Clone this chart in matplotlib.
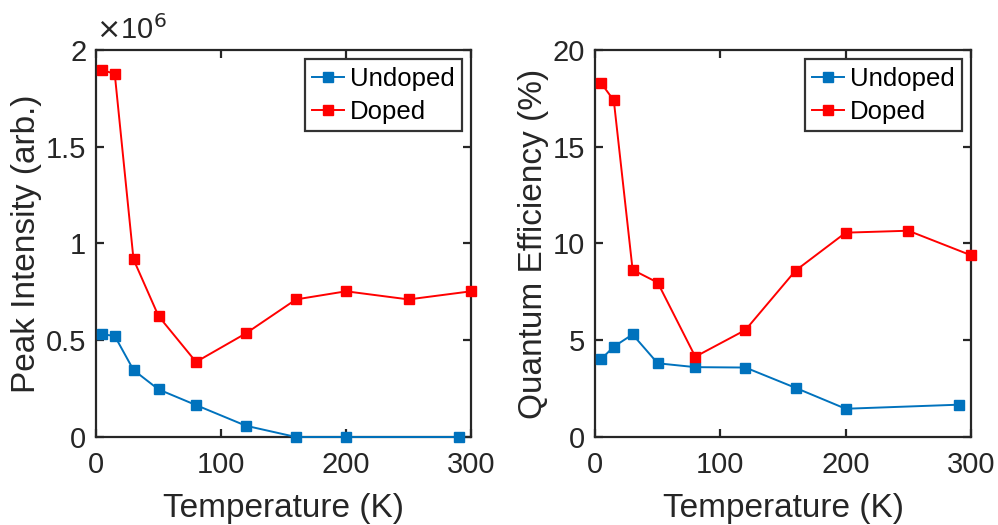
import matplotlib.pyplot as plt
from matplotlib.ticker import FuncFormatter

# Data
temp_undoped = [5, 15, 30, 50, 80, 120, 160, 200, 290]
temp_doped = [5, 15, 30, 50, 80, 120, 160, 200, 250, 300]

peak_undoped = [0.531e6, 0.522e6, 0.346e6, 0.246e6, 0.165e6, 0.058e6, 0.0, 0.0, 0.0]
peak_doped = [1.897e6, 1.876e6, 0.918e6, 0.625e6, 0.388e6, 0.536e6, 0.711e6, 0.753e6, 0.711e6, 0.753e6]

qe_undoped = [4.03, 4.67, 5.30, 3.81, 3.61, 3.59, 2.54, 1.46, 1.67]
qe_doped = [18.28, 17.39, 8.64, 7.98, 4.15, 5.53, 8.60, 10.56, 10.66, 9.39]

x_ticks = [0, 100, 200, 300]
peak_ticks = [0, 0.5e6, 1e6, 1.5e6, 2e6]
qe_ticks = [0, 5, 10, 15, 20]

blue = '#0072BD'
red = '#FF0000'
dark = '#262626'

plt.rcParams['font.family'] = ['Liberation Sans', 'DejaVu Sans']

fig = plt.figure(figsize=(9.98, 5.25), dpi=100)
ax1 = fig.add_axes([0.0962, 0.1676, 0.3758, 0.7372])
ax2 = fig.add_axes([0.5962, 0.1676, 0.3768, 0.7372])


def style(ax):
    for s in ax.spines.values():
        s.set_linewidth(1.6)
        s.set_color(dark)
    ax.tick_params(direction='in', length=6, width=1.6, color=dark,
                   labelsize=21, labelcolor=dark, top=True, right=True)
    ax.tick_params(axis='x', pad=10)
    ax.tick_params(axis='y', pad=7)
    ax.set_xlim(0, 300)
    ax.set_xticks(x_ticks)
    ax.set_xlabel('Temperature (K)', fontsize=24, color=dark, labelpad=10)


# Left panel: peak intensity
ax1.plot(temp_undoped, peak_undoped, '-s', color=blue, lw=1.4, ms=6.5, label='Undoped', clip_on=False, zorder=3)
ax1.plot(temp_doped, peak_doped, '-s', color=red, lw=1.4, ms=6.5, label='Doped', clip_on=False, zorder=3)
style(ax1)
ax1.set_ylim(0, 2e6)
ax1.set_yticks(peak_ticks)
ax1.yaxis.set_major_formatter(FuncFormatter(lambda v, p: '%g' % (v / 1e6)))
ax1.set_ylabel('Peak Intensity (arb.)', fontsize=24, color=dark, labelpad=3)
ax1.text(0.0, 1.012, r'$\times$10$^6$', transform=ax1.transAxes, fontsize=21,
         color=dark, ha='left', va='bottom')

# Right panel: quantum efficiency
ax2.plot(temp_undoped, qe_undoped, '-s', color=blue, lw=1.4, ms=6.5, label='Undoped', clip_on=False, zorder=3)
ax2.plot(temp_doped, qe_doped, '-s', color=red, lw=1.4, ms=6.5, label='Doped', clip_on=False, zorder=3)
style(ax2)
ax2.set_ylim(0, 20)
ax2.set_yticks(qe_ticks)
ax2.set_ylabel('Quantum Efficiency (%)', fontsize=24, color=dark, labelpad=3)

for ax in (ax1, ax2):
    leg = ax.legend(loc='upper right', fontsize=18.5, frameon=True, fancybox=False,
                    edgecolor='black', handlelength=1.25, handletextpad=0.2,
                    borderpad=0.3, labelspacing=0.35, borderaxespad=0.35,
                    numpoints=1)
    leg.get_frame().set_linewidth(1.6)
    for t in leg.get_texts():
        t.set_color('black')

plt.savefig('out.png', dpi=100)
